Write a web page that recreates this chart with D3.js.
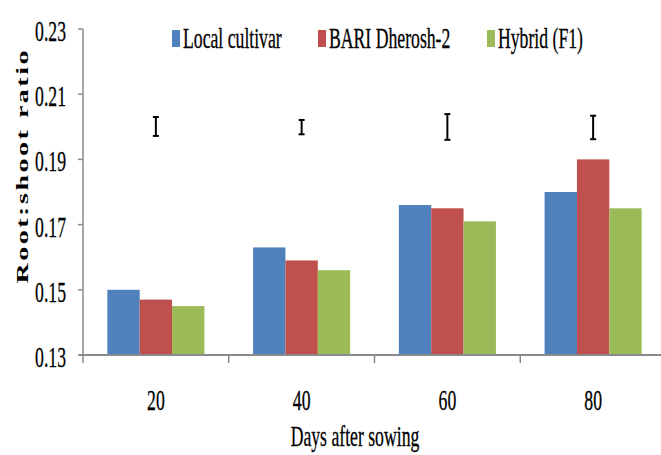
<!DOCTYPE html>
<html>
<head>
<meta charset="utf-8">
<script src="https://cdn.jsdelivr.net/npm/d3@7"></script>
<style>
  body { margin: 0; background: #fff; }
</style>
</head>
<body>
<svg id="chart" width="661" height="455"></svg>
<script>
// chart data
const days = ["20", "40", "60", "80"];
const seriesNames = ["Local cultivar", "BARI Dherosh-2", "Hybrid (F1)"];
const localCultivar = [0.150, 0.163, 0.176, 0.180];
const bariDherosh = [0.147, 0.159, 0.175, 0.190];
const hybridF1 = [0.145, 0.156, 0.171, 0.175];
// LSD bars drawn above each group
const lsdLow = [0.1972, 0.1977, 0.1960, 0.1962];
const lsdHigh = [0.2030, 0.2021, 0.2039, 0.2034];
const yTicks = [0.13, 0.15, 0.17, 0.19, 0.21, 0.23];
const colors = ["#4f81bd", "#c0504d", "#9bbb59"];

const series = [localCultivar, bariDherosh, hybridF1];
const sx = 0.61; // text is squeezed horizontally in the original

const svg = d3.select("#chart");
const margin = { top: 29, left: 83, bottom: 355, right: 666 };

const x0 = d3.scaleBand().domain(days).range([margin.left, margin.right]).padding(0);
const x1 = d3.scaleBand().domain(d3.range(series.length))
  .range([x0.bandwidth() * 0.167, x0.bandwidth() * 0.833]).padding(0);
const y = d3.scaleLinear().domain([0.13, 0.23]).range([margin.bottom, margin.top]);

// helper for squeezed text
const addText = (g, x, yy, str, anchor, size) =>
  g.append("text")
    .attr("transform", `translate(${x},${yy}) scale(${sx},1)`)
    .attr("text-anchor", anchor)
    .attr("font-family", "Liberation Serif")
    .attr("font-size", size)
    .attr("fill", "#000")
    .attr("stroke", "#000")
    .attr("stroke-width", 0.3)
    .text(str);

// Bars
days.forEach((d, i) => {
  series.forEach((s, j) => {
    svg.append("rect")
      .attr("x", x0(d) + x1(j))
      .attr("y", y(s[i]))
      .attr("width", x1.bandwidth())
      .attr("height", y(0.13) - y(s[i]))
      .attr("fill", colors[j]);
  });
});

// Y axis
svg.append("line")
  .attr("x1", margin.left).attr("x2", margin.left)
  .attr("y1", y(0.23)).attr("y2", y(0.13) + 8)
  .attr("stroke", "#8a8a8a").attr("stroke-width", 1.5);
yTicks.forEach(t => {
  svg.append("line")
    .attr("x1", margin.left - 5).attr("x2", margin.left)
    .attr("y1", y(t)).attr("y2", y(t))
    .attr("stroke", "#8a8a8a").attr("stroke-width", 1.5);
  addText(svg, 66, y(t) + 12, d3.format(".2f")(t), "end", 29);
});

// X axis
svg.append("line")
  .attr("x1", margin.left - 4).attr("x2", 661)
  .attr("y1", y(0.13)).attr("y2", y(0.13))
  .attr("stroke", "#8a8a8a").attr("stroke-width", 2);
days.forEach(d => {
  svg.append("line")
    .attr("x1", x0(d) + x0.bandwidth()).attr("x2", x0(d) + x0.bandwidth())
    .attr("y1", y(0.13)).attr("y2", y(0.13) + 8)
    .attr("stroke", "#8a8a8a").attr("stroke-width", 1.5);
  addText(svg, x0(d) + x0.bandwidth() / 2, 410, d, "middle", 29);
});

// LSD bars
days.forEach((d, i) => {
  const cx = x0(d) + x0.bandwidth() / 2;
  const g = svg.append("g").attr("stroke", "#000").attr("stroke-width", 2);
  g.append("line").attr("x1", cx).attr("x2", cx).attr("y1", y(lsdHigh[i])).attr("y2", y(lsdLow[i]));
  g.append("line").attr("x1", cx - 3).attr("x2", cx + 3).attr("y1", y(lsdHigh[i])).attr("y2", y(lsdHigh[i]));
  g.append("line").attr("x1", cx - 3).attr("x2", cx + 3).attr("y1", y(lsdLow[i])).attr("y2", y(lsdLow[i]));
});

// Legend
const legendX = [172, 318, 487];
seriesNames.forEach((n, j) => {
  svg.append("rect")
    .attr("x", legendX[j]).attr("y", 30)
    .attr("width", 8).attr("height", 17)
    .attr("fill", colors[j]);
  addText(svg, legendX[j] + 11, 48, n, "start", 29);
});

// Axis titles
addText(svg, 355, 446, "Days after sowing", "middle", 29);
svg.append("text")
  .attr("transform", `translate(28,167) scale(${sx},1) rotate(-90)`)
  .attr("text-anchor", "middle")
  .attr("textLength", 233)
  .attr("lengthAdjust", "spacing")
  .attr("font-family", "Liberation Serif")
  .attr("font-size", 28)
  .attr("font-weight", "bold")
  .attr("fill", "#000")
  .text("Root:shoot ratio");
</script>
</body>
</html>
